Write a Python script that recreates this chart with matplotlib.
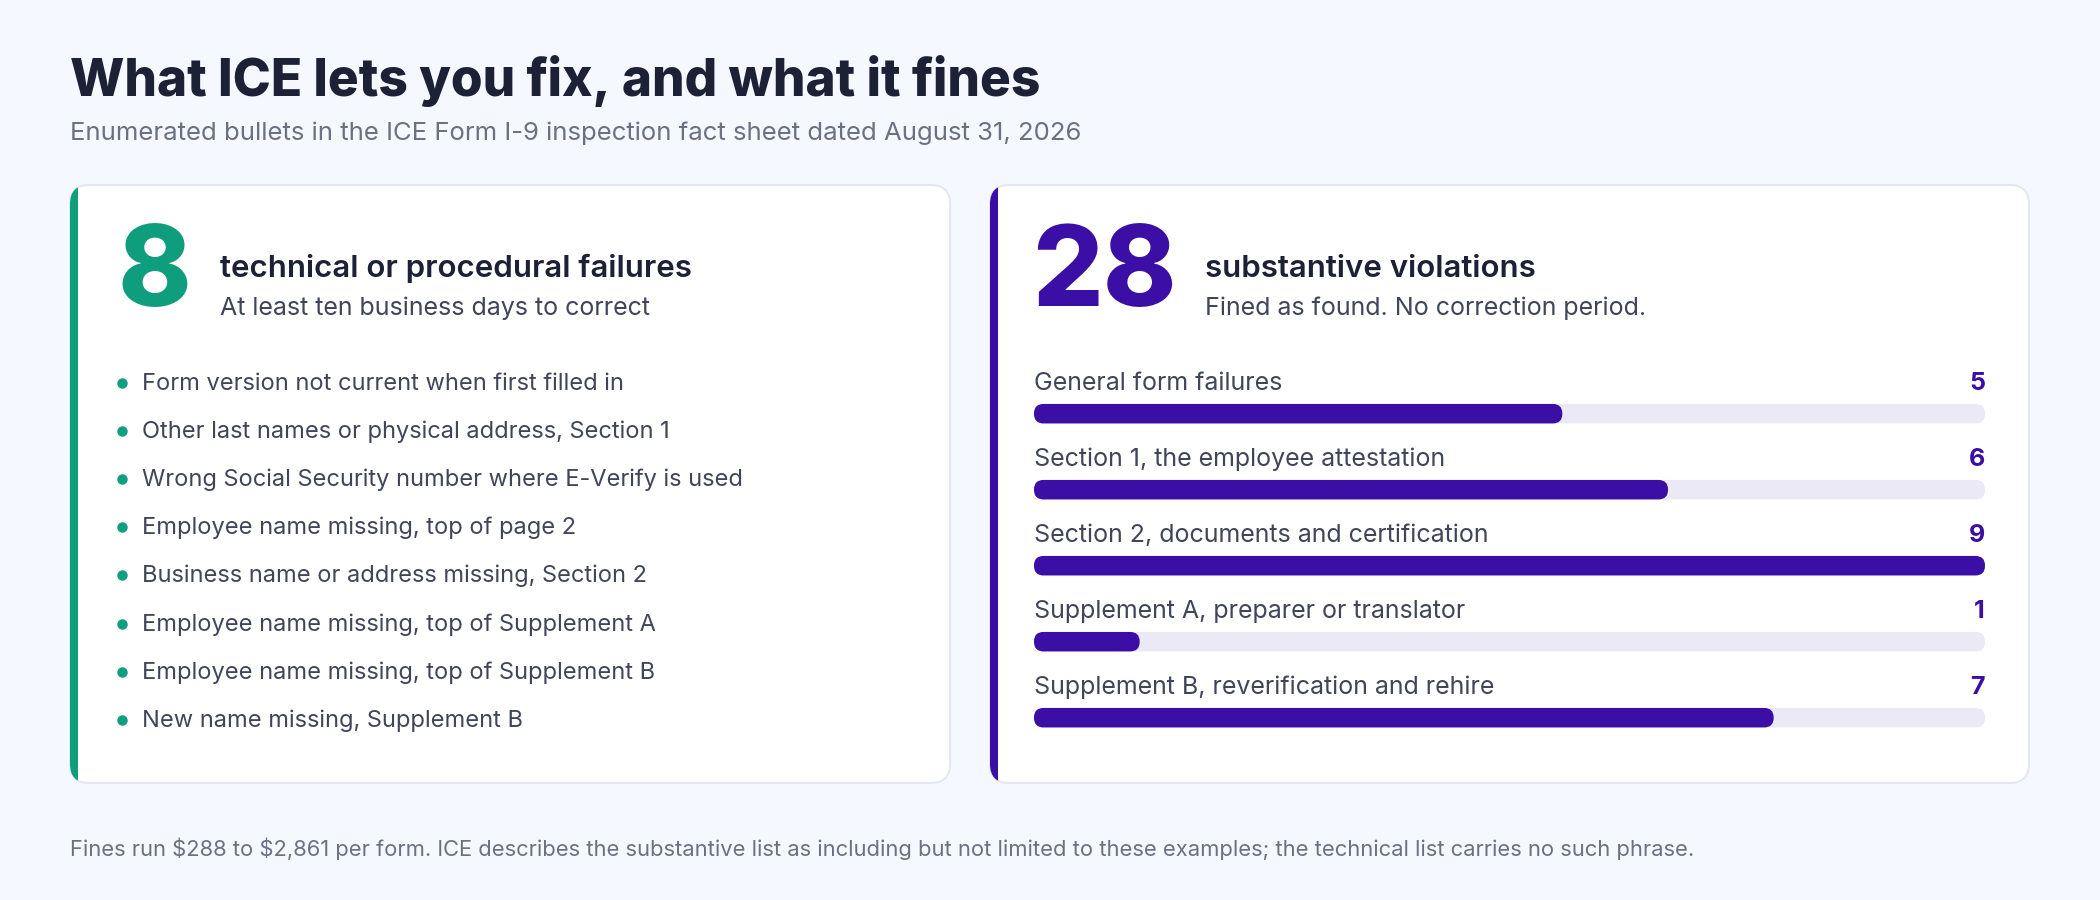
import matplotlib
matplotlib.use("Agg")
import matplotlib.pyplot as plt
from matplotlib.patches import FancyBboxPatch, Rectangle

plt.rcParams['font.family'] = ['Inter', 'DejaVu Sans']

# ---- data ----
title = "What ICE lets you fix, and what it fines"
subtitle = "Enumerated bullets in the ICE Form I-9 inspection fact sheet dated August 31, 2026"
footnote = ("Fines run \\$288 to \\$2,861 per form. ICE describes the substantive list as including "
            "but not limited to these examples; the technical list carries no such phrase.")

technical_heading = "technical or procedural failures"
technical_note = "At least ten business days to correct"
technical_items = [
    "Form version not current when first filled in",
    "Other last names or physical address, Section 1",
    "Wrong Social Security number where E-Verify is used",
    "Employee name missing, top of page 2",
    "Business name or address missing, Section 2",
    "Employee name missing, top of Supplement A",
    "Employee name missing, top of Supplement B",
    "New name missing, Supplement B",
]

substantive_heading = "substantive violations"
substantive_note = "Fined as found. No correction period."
substantive_groups = [
    "General form failures",
    "Section 1, the employee attestation",
    "Section 2, documents and certification",
    "Supplement A, preparer or translator",
    "Supplement B, reverification and rehire",
]
substantive_counts = [5, 6, 9, 1, 7]

# ---- colours ----
BG = '#f5f8fe'
INK = '#1c2136'
MUTED = '#6b7183'
BODY = '#404558'
GREEN = '#0f9e7d'
PURPLE = '#3b0ea5'
TRACK = '#ebe9f6'
BORDER = '#e3e7f0'

W, H = 2100, 900
fig = plt.figure(figsize=(21, 9), dpi=100)
fig.patch.set_facecolor(BG)

# full-figure axes in pixel units for the page layout
bg = fig.add_axes([0, 0, 1, 1])
bg.set_xlim(0, W)
bg.set_ylim(H, 0)
bg.axis('off')

bg.text(70, 96, title, fontsize=37, fontweight='heavy', color=INK, va='baseline')
bg.text(70, 140, subtitle, fontsize=18.5, color=MUTED, va='baseline')
bg.text(70, 856, footnote, fontsize=15.8, color=MUTED, va='baseline')

CARD_TOP, CARD_BOT = 185, 783


def card(x0, x1, accent):
    h = CARD_BOT - CARD_TOP
    style = "round,pad=0,rounding_size=19"
    bg.add_patch(FancyBboxPatch((x0, CARD_TOP), x1 - x0, h, boxstyle=style,
                                fc='white', ec=BORDER, lw=1.4, zorder=1))
    strip = FancyBboxPatch((x0, CARD_TOP), x1 - x0, h, boxstyle=style,
                           fc=accent, ec='none', zorder=2)
    bg.add_patch(strip)
    strip.set_clip_path(Rectangle((x0, CARD_TOP), 8, h, transform=bg.transData))


card(70, 950, GREEN)
card(990, 2029, PURPLE)

# left card
bg.text(117, 306, str(len(technical_items)), fontsize=80, fontweight='heavy',
        color=GREEN, va='baseline')
bg.text(220, 277, technical_heading, fontsize=22.5, fontweight='semibold', color=INK, va='baseline')
bg.text(220, 315, technical_note, fontsize=18, color=BODY, va='baseline')

for i, item in enumerate(technical_items):
    base = 390 + i * 48.1
    bg.plot(122, base - 7, 'o', ms=6.5, color=GREEN, zorder=3)
    bg.text(142, base, item, fontsize=17, color=BODY, va='baseline')

# right card
bg.text(1032, 306, str(sum(substantive_counts)), fontsize=80, fontweight='heavy',
        color=PURPLE, va='baseline')
bg.text(1205, 277, substantive_heading, fontsize=22.5, fontweight='semibold', color=INK, va='baseline')
bg.text(1205, 315, substantive_note, fontsize=18, color=BODY, va='baseline')

# bar panel: one row per group, label baseline at y=i, bar just under it
ROW = 76.0
bx0, bx1 = 1034, 1985
top_px = 390 - 0.5 * ROW
n = len(substantive_groups)
ylo, yhi = -0.5, n - 0.3
bot_px = top_px + (yhi - ylo) * ROW
bar_ax = fig.add_axes([bx0 / W, 1 - bot_px / H, (bx1 - bx0) / W, (bot_px - top_px) / H])
bar_ax.set_facecolor('none')
bar_ax.axis('off')
vmax = max(substantive_counts)
bar_ax.set_xlim(0, vmax)
bar_ax.set_ylim(yhi, ylo)

px_per_x = (bx1 - bx0) / vmax
aspect = px_per_x / ROW
bar_h = 19.5 / ROW
bar_off = 23.7 / ROW
rad = 9.5 / px_per_x
bstyle = "round,pad=0,rounding_size=%f" % rad

for i, (grp, cnt) in enumerate(zip(substantive_groups, substantive_counts)):
    yc = i + bar_off
    bar_ax.add_patch(FancyBboxPatch((0, yc - bar_h / 2), vmax, bar_h, boxstyle=bstyle,
                                    mutation_aspect=aspect, fc=TRACK, ec='none'))
    bar_ax.add_patch(FancyBboxPatch((0, yc - bar_h / 2), cnt, bar_h, boxstyle=bstyle,
                                    mutation_aspect=aspect, fc=PURPLE, ec='none'))
    bar_ax.text(0, i, grp, fontsize=18, color=BODY, va='baseline', ha='left')
    bar_ax.text(vmax, i, str(cnt), fontsize=18, fontweight='bold', color=PURPLE,
                va='baseline', ha='right')

fig.savefig('out.png', dpi=100, facecolor=BG)
